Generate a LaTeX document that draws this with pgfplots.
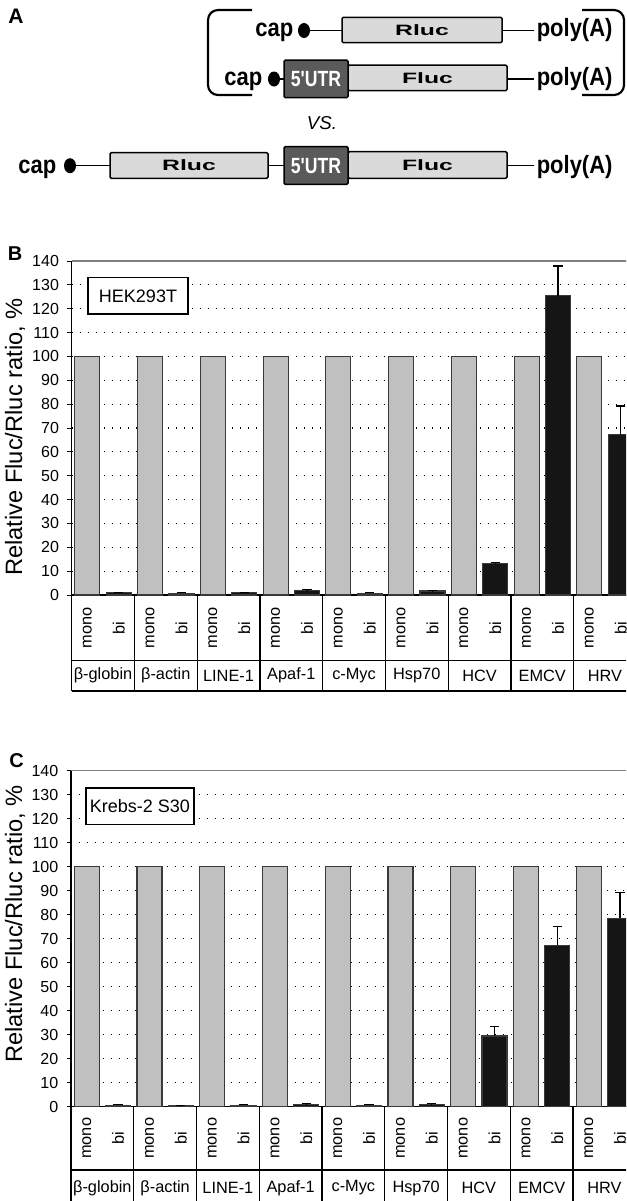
\documentclass[border=0pt]{standalone}
\usepackage{fontspec}
\setmainfont{Liberation Sans}
\usepackage{graphicx}
\usepackage{pgfplots}
\pgfplotsset{compat=1.18}

\definecolor{monogray}{HTML}{C0C0C0}
\definecolor{bidark}{HTML}{151515}
\definecolor{edge}{HTML}{3A3A3A}
\definecolor{boxgray}{HTML}{DADADA}
\definecolor{utrgray}{HTML}{5A5A5A}

\newcommand{\fs}[1]{\fontsize{#1pt}{#1pt}\selectfont}
\newcommand{\capf}[1]{\scalebox{0.88}[1]{\fs{15}\bfseries #1}}
\newcommand{\rl}[1]{\scalebox{1.65}[1]{\fs{9}\bfseries #1}}
\newcommand{\utr}[1]{\scalebox{0.8}[1]{\fs{13.2}\bfseries\color{white}#1}}

\pgfplotsset{panel/.style={
  scale only axis, anchor=south west,
  width=338.85pt,
  xmin=-0.5, xmax=17.5, ymin=0, ymax=140,
  ytick={0,10,...,140}, xtick=\empty,
  axis x line*=bottom, axis y line*=left,
  axis line style={black, line width=0.7pt},
  tick align=outside, major tick length=2.6pt,
  every tick/.style={black, line width=0.6pt},
  yticklabel style={font=\fs{9.6}, xshift=-1.5pt},
  /pgf/number format/assume math mode=true,
  ymajorgrids,
  major grid style={black, line width=0.65pt, dash pattern=on 0.65pt off 4.15pt},
  ybar, bar width=15pt, bar shift=0pt,
  clip=false,
  error bars/error bar style={black, line width=0.7pt},
  error bars/error mark options={rotate=90, black, mark size=2.8pt, line width=0.7pt},
}}

\begin{document}
\begin{tikzpicture}
\useasboundingbox (0,0) rectangle (375.6pt,-720.6pt);
\clip (0,0) rectangle (375.6pt,-720.6pt);

% ---------------- Panel A (schematic) ----------------
\begin{scope}[x=0.6pt,y=-0.6pt, line width=0.9pt, every node/.style={inner sep=0pt}]
  \node[font=\fs{12.6}\bfseries] at (16,16.5) {A};
  % brackets
  \draw[line width=1.3pt, rounded corners=6pt] (252,10) -- (208,10) -- (208,95) -- (252,95);
  \draw[line width=1.3pt, rounded corners=6pt] (582,10) -- (624,10) -- (624,95) -- (582,95);
  % row 1
  \draw (310,30.5) -- (342,30.5);
  \draw (502,30.5) -- (534,30.5);
  \fill (304,30.5) ellipse [x radius=3.6pt, y radius=4.5pt];
  \draw[fill=boxgray, rounded corners=0.8pt] (342,17.3) rectangle (502,42.7);
  \node at (422,30) {\rl{Rluc}};
  \node[anchor=base east] at (294,36.5) {\capf{cap}};
  \node[anchor=base west] at (536,36.5) {\capf{poly(A)}};
  % row 2
  \draw (280,79) -- (284,79);
  \draw (507,79) -- (534,79);
  \fill (274,79) ellipse [x radius=3.6pt, y radius=4.5pt];
  \draw[fill=boxgray, rounded corners=0.8pt] (348,65) rectangle (507,90.7);
  \draw[fill=utrgray, rounded corners=0.8pt] (284,60) rectangle (348,97.7);
  \node at (427.5,78) {\rl{Fluc}};
  \node at (316,79) {\utr{5\textquotesingle UTR}};
  \node[anchor=base east] at (263,85.5) {\capf{cap}};
  \node[anchor=base west] at (536,85.5) {\capf{poly(A)}};
  % vs.
  \node[font=\fs{11.2}\itshape] at (322,123.5) {VS.};
  % row 3
  \draw (76,165.7) -- (110,165.7);
  \draw (268,165.7) -- (284,165.7);
  \draw (507,165.7) -- (534,165.7);
  \fill (70,165.7) ellipse [x radius=3.6pt, y radius=4.5pt];
  \draw[fill=boxgray, rounded corners=0.8pt] (110,152.7) rectangle (268,178.3);
  \draw[fill=boxgray, rounded corners=0.8pt] (348,151.7) rectangle (507,178.3);
  \draw[fill=utrgray, rounded corners=0.8pt] (284,146.7) rectangle (348,184.3);
  \node at (189,165) {\rl{Rluc}};
  \node at (427.5,165) {\rl{Fluc}};
  \node at (316,165.7) {\utr{5\textquotesingle UTR}};
  \node[anchor=base east] at (57,173) {\capf{cap}};
  \node[anchor=base west] at (536,173) {\capf{poly(A)}};
  % panel letters and y labels
  \node[font=\fs{12}\bfseries] at (15,254) {B};
  \node[font=\fs{12}\bfseries] at (16.5,760.5) {C};
  \node[rotate=90, font=\fs{14.2}] at (15,437) {Relative Fluc/Rluc ratio, \%};
  \node[rotate=90, font=\fs{14.2}] at (15,924) {Relative Fluc/Rluc ratio, \%};
\end{scope}

% ---------------- Panel B ----------------
\begin{axis}[panel, at={(43.0pt,-357pt)}, height=200.4pt]
  \addplot[fill=monogray, draw=edge, line width=0.7pt] table[x=x,y=y] {
x y
0 100
2 100
4 100
6 100
8 100
10 100
12 100
14 100
16 100
};
  \addplot[fill=bidark, draw=edge, line width=0.7pt,
    error bars/.cd, y dir=plus, y explicit] table[x=x,y=y,y error=e] {
x y e
1 1.1 0.1
3 0.8 0.3
5 1.0 0.1
7 1.8 0.4
9 0.8 0.3
11 1.7 0.1
13 13.2 0.6
15 125.4 12.5
17 67.2 12.0
};
  \draw[gray, line width=0.8pt] (rel axis cs:0,1) -- (rel axis cs:1,1);
  % category table
  \pgfplotsinvokeforeach{-0.5,1.5,...,17.5}{
    \draw[black, line width=0.7pt] (axis cs:#1,0) -- ([yshift=-57.6pt]axis cs:#1,0);
  }
  \draw[black, line width=0.7pt] ([yshift=-39.3pt]axis cs:-0.5,0) -- ([yshift=-39.3pt]axis cs:17.5,0);
  \draw[black, line width=0.7pt] ([yshift=-57.6pt]axis cs:-0.5,0) -- ([yshift=-57.6pt]axis cs:17.5,0);
  \pgfplotsinvokeforeach{0,2,...,16}{
    \node[rotate=90, font=\fs{9.8}, inner sep=0pt] at ([yshift=-19.65pt]axis cs:#1,0) {mono};
  }
  \pgfplotsinvokeforeach{1,3,...,17}{
    \node[rotate=90, font=\fs{9.8}, inner sep=0pt] at ([yshift=-19.65pt]axis cs:#1,0) {bi};
  }
  \node[font=\fs{9.8}] at ([yshift=-48.45pt]axis cs:0.5,0) {β-globin};
  \node[font=\fs{9.8}] at ([yshift=-48.45pt]axis cs:2.5,0) {β-actin};
  \node[font=\fs{9.8}] at ([yshift=-48.45pt]axis cs:4.5,0) {LINE-1};
  \node[font=\fs{9.8}] at ([yshift=-48.45pt]axis cs:6.5,0) {Apaf-1};
  \node[font=\fs{9.8}] at ([yshift=-48.45pt]axis cs:8.5,0) {c-Myc};
  \node[font=\fs{9.8}] at ([yshift=-48.45pt]axis cs:10.5,0) {Hsp70};
  \node[font=\fs{9.8}] at ([yshift=-48.45pt]axis cs:12.5,0) {HCV};
  \node[font=\fs{9.8}] at ([yshift=-48.45pt]axis cs:14.5,0) {EMCV};
  \node[font=\fs{9.8}] at ([yshift=-48.45pt]axis cs:16.5,0) {HRV};
\end{axis}

% ---------------- Panel C ----------------
\begin{axis}[panel, at={(42.6pt,-663.9pt)}, height=201.6pt]
  \addplot[fill=monogray, draw=edge, line width=0.7pt] table[x=x,y=y] {
x y
0 100
2 100
4 100
6 100
8 100
10 100
12 100
14 100
16 100
};
  \addplot[fill=bidark, draw=edge, line width=0.7pt,
    error bars/.cd, y dir=plus, y explicit] table[x=x,y=y,y error=e] {
x y e
1 0.5 0.4
3 0.3 0.1
5 0.5 0.4
7 1.0 0.1
9 0.5 0.4
11 1.0 0.1
13 29.4 3.9
15 67.1 7.9
17 78.5 10.7
};
  \draw[gray, line width=0.8pt] (rel axis cs:0,1) -- (rel axis cs:1,1);
  \pgfplotsinvokeforeach{-0.5,1.5,...,17.5}{
    \draw[black, line width=0.7pt] (axis cs:#1,0) -- ([yshift=-58.5pt]axis cs:#1,0);
  }
  \draw[black, line width=0.7pt] ([yshift=-38.1pt]axis cs:-0.5,0) -- ([yshift=-38.1pt]axis cs:17.5,0);
  \pgfplotsinvokeforeach{0,2,...,16}{
    \node[rotate=90, font=\fs{9.8}, inner sep=0pt] at ([yshift=-19.05pt]axis cs:#1,0) {mono};
  }
  \pgfplotsinvokeforeach{1,3,...,17}{
    \node[rotate=90, font=\fs{9.8}, inner sep=0pt] at ([yshift=-19.05pt]axis cs:#1,0) {bi};
  }
  \node[font=\fs{9.8}] at ([yshift=-48.9pt]axis cs:0.5,0) {β-globin};
  \node[font=\fs{9.8}] at ([yshift=-48.9pt]axis cs:2.5,0) {β-actin};
  \node[font=\fs{9.8}] at ([yshift=-48.9pt]axis cs:4.5,0) {LINE-1};
  \node[font=\fs{9.8}] at ([yshift=-48.9pt]axis cs:6.5,0) {Apaf-1};
  \node[font=\fs{9.8}] at ([yshift=-48.9pt]axis cs:8.5,0) {c-Myc};
  \node[font=\fs{9.8}] at ([yshift=-48.9pt]axis cs:10.5,0) {Hsp70};
  \node[font=\fs{9.8}] at ([yshift=-48.9pt]axis cs:12.5,0) {HCV};
  \node[font=\fs{9.8}] at ([yshift=-48.9pt]axis cs:14.5,0) {EMCV};
  \node[font=\fs{9.8}] at ([yshift=-48.9pt]axis cs:16.5,0) {HRV};
\end{axis}

% label boxes on top of grid
\begin{scope}[x=0.6pt,y=-0.6pt]
  \draw[fill=white, line width=0.7pt] (88,277.7) rectangle (188,314);
  \node[font=\fs{10.8}, inner sep=0pt] at (138,296) {HEK293T};
  \draw[fill=white, line width=0.7pt] (86,788) rectangle (194,824.3);
  \node[font=\fs{10.8}, inner sep=0pt] at (140,806) {Krebs-2 S30};
\end{scope}
\end{tikzpicture}
\end{document}
